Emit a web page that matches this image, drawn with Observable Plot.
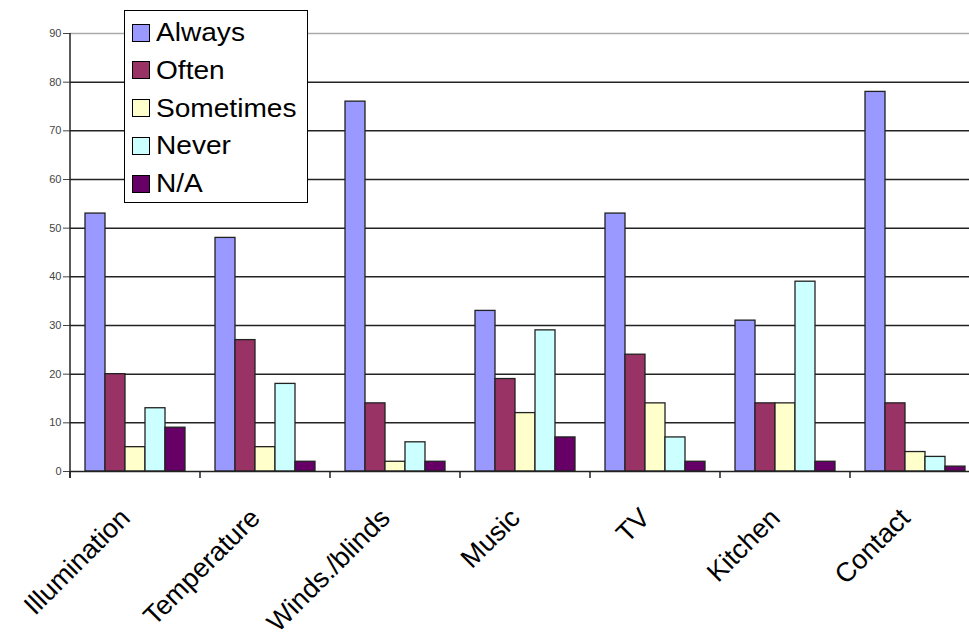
<!DOCTYPE html>
<html>
<head>
<meta charset="utf-8">
<script src="https://cdn.jsdelivr.net/npm/d3@7"></script>
<script src="https://cdn.jsdelivr.net/npm/@observablehq/plot@0.6"></script>
<style>
  html, body { margin: 0; padding: 0; background: #fff; overflow: hidden; }
  #wrap { position: relative; width: 969px; height: 639px; overflow: hidden; font-family: "Liberation Sans", Arial, sans-serif; }
  #chart svg { max-width: none !important; }
  #legend { position: absolute; left: 124px; top: 10px; width: 184px; height: 193px; border: 1.5px solid #000; background: #fff; box-sizing: border-box; }
  .row { position: absolute; left: 7px; display: flex; align-items: center; font-size: 26px; color: #000; }
  .row span { display: inline-block; transform: scaleX(1.08); transform-origin: left center; }
  .sw { width: 18px; height: 18px; border: 1.5px solid #000; box-sizing: border-box; margin-right: 6px; }
</style>
</head>
<body>
<div id="wrap"><div id="chart"></div><div id="legend"></div></div>
<script>
const categories = ["Illumination", "Temperature", "Winds./blinds", "Music", "TV", "Kitchen", "Contact"];
const series = ["Always", "Often", "Sometimes", "Never", "N/A"];
const always    = [53, 48, 76, 33, 53, 31, 78];
const often     = [20, 27, 14, 19, 24, 14, 14];
const sometimes = [5, 5, 2, 12, 14, 14, 4];
const never     = [13, 18, 6, 29, 7, 39, 3];
const na        = [9, 2, 2, 7, 2, 2, 1];
const colors = ["#9999ff", "#993366", "#ffffcc", "#ccffff", "#660066"];
const yTicks = [0, 10, 20, 30, 40, 50, 60, 70, 80, 90];

const seriesValues = [always, often, sometimes, never, na];
const data = [];
categories.forEach((c, i) => {
  series.forEach((s, j) => data.push({category: c, series: s, value: seriesValues[j][i]}));
});

const plot = Plot.plot({
  width: 980,
  height: 639,
  marginLeft: 69,
  marginRight: 0,
  marginTop: 33,
  marginBottom: 168,
  style: {fontFamily: "Liberation Sans, Arial, sans-serif", background: "#fff"},
  fx: {domain: categories, padding: 0, axis: null},
  x: {domain: series, paddingInner: 0, paddingOuter: 0.75, axis: null},
  y: {domain: [0, 90], axis: null},
  color: {domain: series, range: colors},
  marks: [
    Plot.ruleY(yTicks.filter(d => d > 0 && d < 90), {stroke: "#222", strokeWidth: 1.5}),
    Plot.ruleY([90], {stroke: "#aaa", strokeWidth: 1.5}),
    Plot.barY(data, {fx: "category", x: "series", y: "value", fill: "series", stroke: "#222", strokeWidth: 1.3}),
    Plot.ruleY([0], {stroke: "#222", strokeWidth: 1.5}),
    Plot.axisY({ticks: yTicks, tickSize: 7, tickPadding: 2, fontSize: 11, color: "#444", label: null, tickFormat: d => d}),
    Plot.axisFx({anchor: "bottom", tickSize: 0, tickRotate: -45, fontSize: 27, tickPadding: 42, dx: -10, label: null})
  ]
});
document.getElementById("chart").appendChild(plot);

// axis line and category boundary ticks, positioned from the plot's own scales
const svg = d3.select(plot);
const fx = plot.scale("fx");
const y = plot.scale("y");
const y0 = y.apply(0), yTop = y.apply(90);
const bounds = categories.map(c => fx.apply(c)).concat([fx.apply(categories[categories.length - 1]) + fx.step]);
const g = svg.append("g").attr("stroke", "#222").attr("stroke-width", 1.5);
g.append("line").attr("x1", bounds[0]).attr("x2", bounds[0]).attr("y1", yTop).attr("y2", y0 + 7);
bounds.forEach(b => g.append("line").attr("x1", b).attr("x2", b).attr("y1", y0).attr("y2", y0 + 7));

// legend
const legend = document.getElementById("legend");
series.forEach((s, j) => {
  const row = document.createElement("div");
  row.className = "row";
  row.style.top = (6 + j * 37.8) + "px";
  const sw = document.createElement("div");
  sw.className = "sw";
  sw.style.background = colors[j];
  row.appendChild(sw);
  const t = document.createElement("span");
  t.textContent = s;
  row.appendChild(t);
  legend.appendChild(row);
});
</script>
</body>
</html>
